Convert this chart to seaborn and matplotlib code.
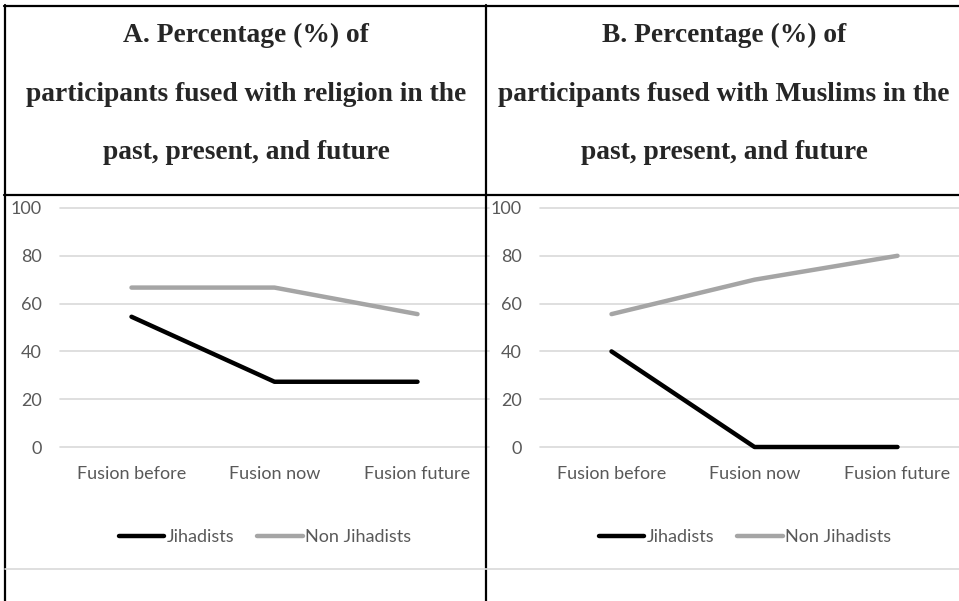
import matplotlib
matplotlib.use('Agg')
import matplotlib.pyplot as plt
import seaborn as sns
import pandas as pd
from matplotlib.lines import Line2D

# data
stages = ['Fusion before', 'Fusion now', 'Fusion future']
groups = ['Jihadists', 'Non Jihadists']
religion_jihadists = [54.5, 27.3, 27.3]
religion_non_jihadists = [66.7, 66.7, 55.6]
muslims_jihadists = [40.0, 0.0, 0.0]
muslims_non_jihadists = [55.6, 70.0, 80.0]
yticks = [0, 20, 40, 60, 80, 100]

titles = ['A. Percentage (%) of\nparticipants fused with religion in the\npast, present, and future',
          'B. Percentage (%) of\nparticipants fused with Muslims in the\npast, present, and future']


def long_frame(jihad, non_jihad):
    rows = []
    for g, vals in zip(groups, [jihad, non_jihad]):
        for i, v in enumerate(vals):
            rows.append({'pos': i, 'stage': stages[i], 'group': g, 'value': v})
    return pd.DataFrame(rows)


sns.set_style('white')
plt.rcParams['font.family'] = ['Lato', 'DejaVu Sans']

W, H = 959, 601
fig = plt.figure(figsize=(W / 100, H / 100), dpi=100)

def fx(px):
    return px / W

def fy(py):
    return 1 - py / H

palette = {'Jihadists': '#000000', 'Non Jihadists': '#A5A5A5'}
tick_color = '#595959'
grid_color = '#D9D9D9'

frames = [long_frame(religion_jihadists, religion_non_jihadists),
          long_frame(muslims_jihadists, muslims_non_jihadists)]
lefts = [60, 540]
title_centers = [246, 724]

for k in range(2):
    ax = fig.add_axes([fx(lefts[k]), fy(447), fx(429), (447 - 208) / H])
    sns.lineplot(data=frames[k], x='pos', y='value', hue='group', palette=palette,
                 linewidth=3.2, ax=ax, legend=True, solid_capstyle='round')
    for ln in ax.get_lines():
        ln.set_clip_on(False)
    ax.set_xlim(-0.5, 2.5)
    ax.set_ylim(0, 100)
    ax.set_xticks(range(len(stages)))
    ax.set_xticklabels(stages)
    ax.set_yticks(yticks)
    ax.set_xlabel('')
    ax.set_ylabel('')
    for s in ax.spines.values():
        s.set_visible(False)
    ax.yaxis.grid(True, color=grid_color, linewidth=1.2)
    ax.xaxis.grid(False)
    ax.set_axisbelow(True)
    ax.tick_params(axis='y', length=0, pad=13, labelsize=13, labelcolor=tick_color)
    ax.tick_params(axis='x', length=0, pad=14, labelsize=13, labelcolor=tick_color)
    for gl in ax.get_ygridlines():
        gl.set_clip_on(False)

    leg = ax.legend(loc='center', bbox_to_anchor=(fx(lefts[k] + 205), fy(537)),
                    bbox_transform=fig.transFigure, ncol=2, frameon=False,
                    handlelength=2.5, handletextpad=0.15, columnspacing=1.3,
                    fontsize=13)
    for t in leg.get_texts():
        t.set_color(tick_color)
    for h in leg.get_lines():
        h.set_linewidth(3.2)
        h.set_solid_capstyle('round')

    # header text
    for j, line in enumerate(titles[k].split('\n')):
        fig.text(fx(title_centers[k]), fy([42, 101, 159][j]), line,
                 ha='center', va='baseline', fontsize=19.8, fontweight='bold',
                 family=['Liberation Serif', 'DejaVu Serif'])

# table borders
border = dict(color='black', linewidth=1.6, transform=fig.transFigure)
fig.add_artist(Line2D([fx(5), fx(5)], [fy(5), 0], **border))
fig.add_artist(Line2D([fx(486), fx(486)], [fy(5), 0], **border))
fig.add_artist(Line2D([fx(4), 1], [fy(6), fy(6)], **border))
fig.add_artist(Line2D([fx(4), 1], [fy(195), fy(195)], **border))
fig.add_artist(Line2D([fx(5), 1], [fy(569), fy(569)], color=grid_color,
                      linewidth=1.2, transform=fig.transFigure))

plt.savefig('out.png', dpi=100)
plt.close()
